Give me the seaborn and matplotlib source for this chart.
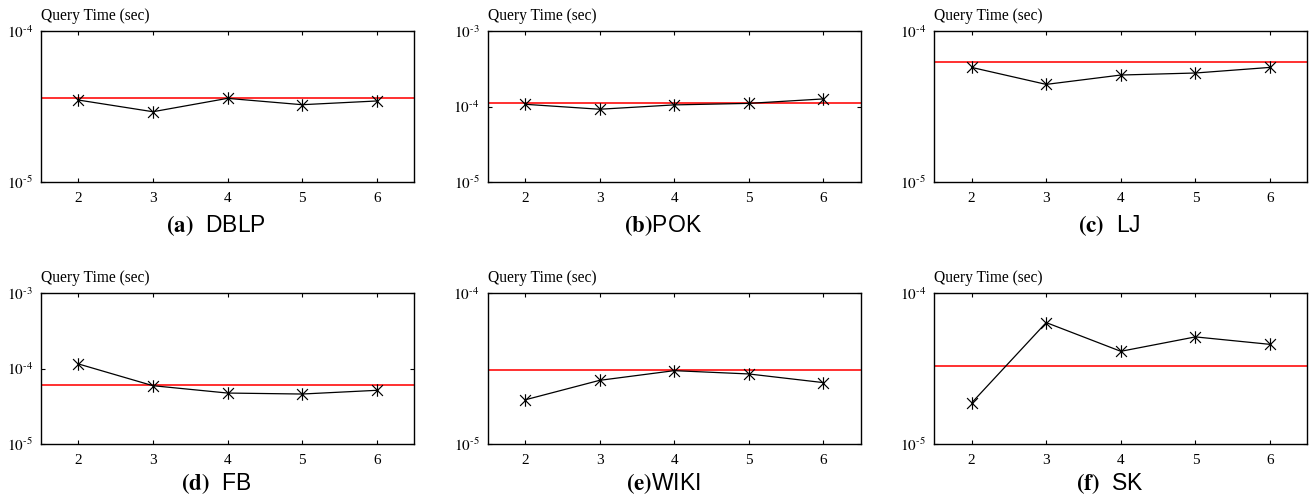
import numpy as np
import pandas as pd
import matplotlib
matplotlib.use("Agg")
import matplotlib.pyplot as plt
from matplotlib.path import Path
import seaborn as sns

# ---------------- data ----------------
k_values = [2, 3, 4, 5, 6]

dblp = [3.49e-5, 2.92e-5, 3.58e-5, 3.25e-5, 3.44e-5]
pok = [1.07e-4, 9.2e-5, 1.05e-4, 1.10e-4, 1.26e-4]
lj = [5.74e-5, 4.43e-5, 5.11e-5, 5.27e-5, 5.74e-5]
fb = [1.15e-4, 5.92e-5, 4.73e-5, 4.59e-5, 5.14e-5]
wiki = [1.96e-5, 2.64e-5, 3.06e-5, 2.91e-5, 2.55e-5]
sk = [1.87e-5, 6.37e-5, 4.11e-5, 5.12e-5, 4.57e-5]

reference = [3.60e-5, 1.11e-4, 6.20e-5, 6.04e-5, 3.10e-5, 3.27e-5]

panel_letters = ["a", "b", "c", "d", "e", "f"]
panel_names = ["DBLP", "POK", "LJ", "FB", "WIKI", "SK"]
panel_sep = ["  ", "", "  ", "  ", "", "  "]
y_limits = [(1e-5, 1e-4), (1e-5, 1e-3), (1e-5, 1e-4),
            (1e-5, 1e-3), (1e-5, 1e-4), (1e-5, 1e-4)]
y_label = "Query Time (sec)"

series = [dblp, pok, lj, fb, wiki, sk]

# ---------------- style ----------------
sns.set_style("ticks")
plt.rcParams["font.family"] = ["Liberation Serif", "DejaVu Serif"]
plt.rcParams["mathtext.fontset"] = "stix"
plt.rcParams["axes.linewidth"] = 1.0
plt.rcParams["axes.edgecolor"] = "black"

# asterisk marker: X plus vertical bar
star_path = Path(
    [(-1, -1), (1, 1), (-1, 1), (1, -1), (0, -1.15), (0, 1.15)],
    [Path.MOVETO, Path.LINETO, Path.MOVETO, Path.LINETO, Path.MOVETO, Path.LINETO],
)

W, H = 1314, 503
fig = plt.figure(figsize=(W / 100, H / 100), dpi=100)

lefts = [41, 487.7, 934.3]
tops = [31, 293]
aw, ah = 373, 151

for i in range(6):
    r, c = divmod(i, 3)
    left = lefts[c] / W
    bottom = 1 - (tops[r] + ah) / H
    ax = fig.add_axes([left, bottom, aw / W, ah / H])

    df = pd.DataFrame({"k": k_values, "time": series[i]})
    sns.lineplot(data=df, x="k", y="time", ax=ax, color="black", lw=0.9,
                 marker=star_path, markersize=9, markeredgewidth=0.85,
                 markeredgecolor="black", markerfacecolor="none", zorder=3)
    ax.axhline(reference[i], color="#ff2020", lw=1.3, zorder=2)

    ax.set_yscale("log")
    lo, hi = y_limits[i]
    ax.set_ylim(lo, hi)
    decades = np.arange(int(round(np.log10(lo))), int(round(np.log10(hi))) + 1)
    ax.set_yticks([10.0 ** d for d in decades])
    ax.set_yticklabels([r"$10^{\text{-%d}}$" % (-d) for d in decades])
    ax.yaxis.set_minor_locator(matplotlib.ticker.NullLocator())
    ax.set_xlim(1.5, 6.5)
    ax.set_xticks(k_values)
    ax.set_xticklabels([str(v) for v in k_values])
    ax.tick_params(axis="both", which="both", direction="in", length=2.8,
                   width=0.8, top=True, right=True, labelsize=11,
                   colors="black")
    ax.tick_params(axis="x", pad=7)
    ax.tick_params(axis="y", pad=6)
    ax.set_xlabel("")
    ax.set_ylabel("")
    for s in ax.spines.values():
        s.set_visible(True)
        s.set_color("black")

    ax.text(0.0, 1.075, y_label, transform=ax.transAxes, ha="left",
            va="baseline", fontsize=11.2, color="black")

    title_y = -0.33 if r == 0 else -0.307
    ax.text(0.47, title_y,
            r"$\mathbf{(%s)}$%s%s" % (panel_letters[i], panel_sep[i], panel_names[i]),
            transform=ax.transAxes, ha="center", va="baseline",
            fontsize=16.5, family=["Liberation Sans", "DejaVu Sans"], color="black")

fig.savefig("out.png", dpi=100)
